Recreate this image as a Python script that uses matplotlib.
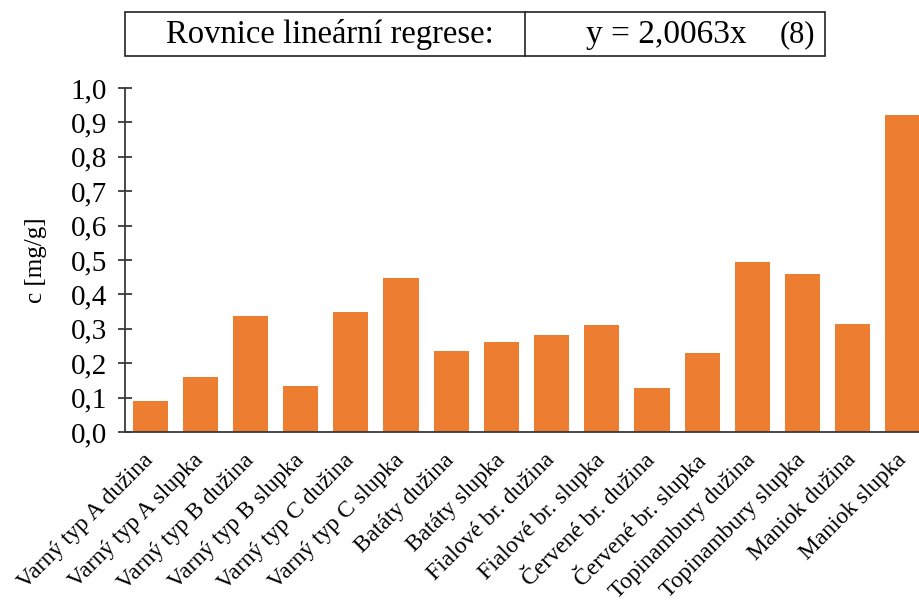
import matplotlib
matplotlib.use("Agg")
import matplotlib.pyplot as plt
from matplotlib.patches import Rectangle
from matplotlib.ticker import FuncFormatter

categories = ["Varný typ A dužina", "Varný typ A slupka", "Varný typ B dužina",
              "Varný typ B slupka", "Varný typ C dužina", "Varný typ C slupka",
              "Batáty dužina", "Batáty slupka", "Fialové br. dužina",
              "Fialové br. slupka", "Červené br. dužina", "Červené br. slupka",
              "Topinambury dužina", "Topinambury slupka", "Maniok dužina",
              "Maniok slupka"]
values = [0.089, 0.161, 0.336, 0.135, 0.350, 0.447, 0.236, 0.262, 0.281,
          0.311, 0.129, 0.230, 0.494, 0.459, 0.315, 0.921]
yticks = [0.0, 0.1, 0.2, 0.3, 0.4, 0.5, 0.6, 0.7, 0.8, 0.9, 1.0]

plt.rcParams['font.family'] = ['Liberation Serif', 'DejaVu Serif']

W, H = 919, 606
fig = plt.figure(figsize=(W / 100, H / 100), dpi=100)
ax = fig.add_axes([125 / W, (H - 432) / H, 803 / W, 344 / H])

x = list(range(len(categories)))
ax.bar(x, values, width=0.7, color="#ED7D31", zorder=2)
ax.set_xlim(-0.5, len(categories) - 0.5)
ax.set_ylim(0, 1.0)
ax.set_yticks(yticks)
ax.yaxis.set_major_formatter(FuncFormatter(lambda v, p: f"{v:.1f}".replace(".", ",")))

for s in ["top", "right"]:
    ax.spines[s].set_visible(False)
for s in ["left", "bottom"]:
    ax.spines[s].set_color("#3a3a3a")
    ax.spines[s].set_linewidth(1.3)

ax.tick_params(axis="y", direction="inout", length=10, width=1.3, color="#3a3a3a",
               labelsize=21, pad=8)
ax.set_xticks(x)
ax.set_xticklabels(categories, rotation=45, ha="right", va="center",
                   rotation_mode="anchor", fontsize=17)
ax.tick_params(axis="x", length=0, pad=18)

ax.set_ylabel("c [mg/g]", fontsize=18, labelpad=17)

# equation box at top
def fx(px):
    return px / W

def fy(py):
    return 1 - py / H

top, bot = 12, 56
fig.patches.append(Rectangle((fx(125), fy(bot)), fx(825) - fx(125), fy(top) - fy(bot),
                             transform=fig.transFigure, fill=False,
                             edgecolor="#222222", linewidth=1.2))
fig.lines.append(plt.Line2D([fx(525), fx(525)], [fy(bot), fy(top)],
                            transform=fig.transFigure, color="#222222", linewidth=1.2))
ymid = fy((top + bot) / 2 + 1)
fig.text(fx(330), ymid, "Rovnice lineární regrese:", ha="center", va="center", fontsize=23.5)
fig.text(fx(666), ymid, "y = 2,0063x", ha="center", va="center", fontsize=24)
fig.text(fx(797), ymid, "(8)", ha="center", va="center", fontsize=22)

fig.savefig("out.png", dpi=100)
